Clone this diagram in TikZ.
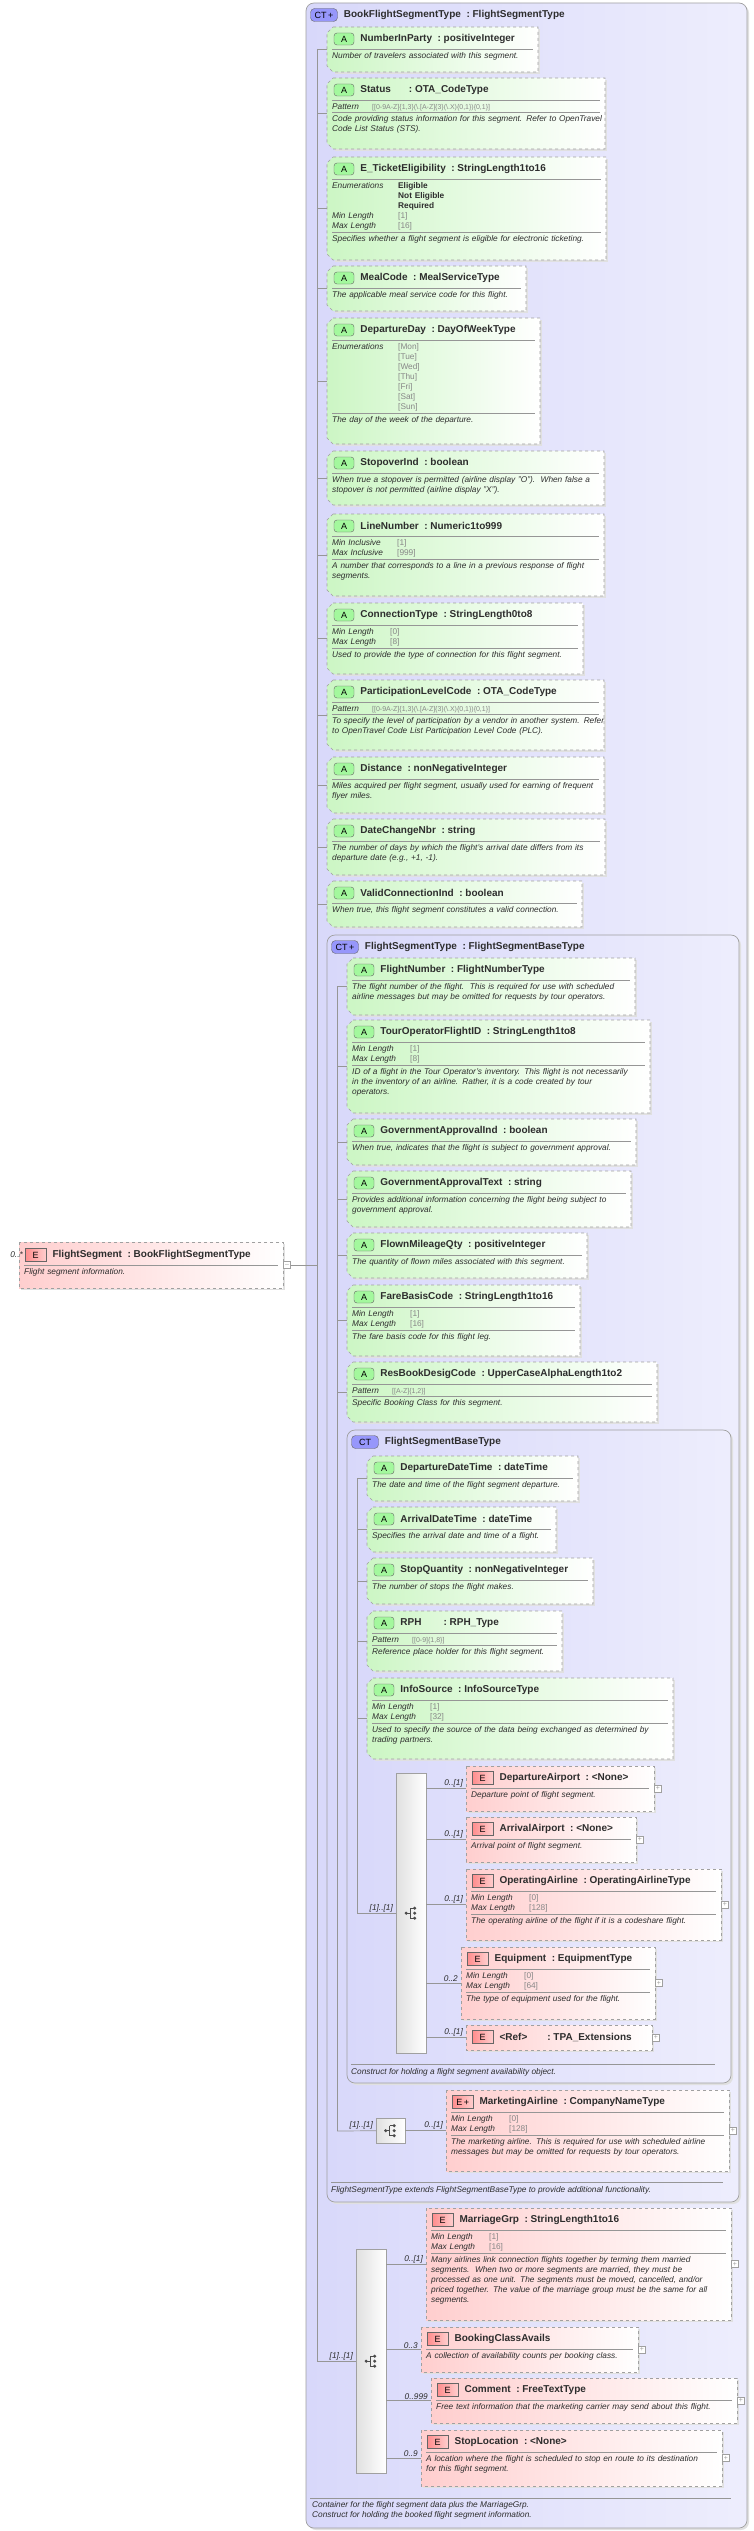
\documentclass[tikz,border=0pt]{standalone}
\usepackage{fontspec}
\setmainfont{Liberation Sans}
\usetikzlibrary{positioning}

\definecolor{attrgreen}{RGB}{204,246,196}
\definecolor{elpink}{RGB}{255,206,206}
\definecolor{ctfill}{RGB}{216,216,250}
\definecolor{bordergray}{RGB}{160,160,160}
\definecolor{rulegray}{RGB}{150,150,150}
\definecolor{facetgray}{RGB}{135,135,135}
\definecolor{txt}{RGB}{45,45,45}

\tikzset{
  conn/.style = {draw=rulegray, line width=.7pt},
  boxshadow/.style = {fill=black!12},
  attrbox/.style = {draw=bordergray, dashed, left color=attrgreen, right color=white, line width=.6pt},
  elbox/.style = {draw=bordergray, dashed, left color=elpink, right color=white, line width=.6pt},
  ctbox/.style = {draw=bordergray, rounded corners=8, left color=ctfill, right color=ctfill!45!white, line width=.7pt},
  abadge/.style = {draw=black!60, rounded corners=3, fill=attrgreen!80!green, minimum width=20, minimum height=12, inner sep=0, font=\fontsize{9}{9}\selectfont},
  ebadge/.style = {draw=black!60, left color=red!45, right color=elpink, minimum width=21, minimum height=13, inner sep=0, font=\fontsize{9}{9}\selectfont},
  ctbadge/.style = {draw=black!60, rounded corners=4, fill=ctfill!70!blue, minimum width=27, minimum height=13, inner sep=0, font=\fontsize{9}{9}\selectfont},
  boxtitle/.style = {inner sep=0, text=txt, font=\fontsize{10}{11}\selectfont\bfseries},
  boxbody/.style = {inner sep=0, anchor=north west, align=left, text=txt, font=\fontsize{8.3}{10}\selectfont\itshape},
  mult/.style = {inner sep=0, text=txt, font=\fontsize{8.3}{9}\selectfont\itshape},
  plusbox/.style = {draw=bordergray, fill=white, minimum size=7, inner sep=0, font=\fontsize{7}{7}\selectfont, text=bordergray},
  seqbar/.style = {draw=bordergray, left color=black!12, right color=white, anchor=north west, inner sep=0},
  sep/.style = {draw=rulegray, line width=.6pt},
}

\newcommand\rw{100pt}
\newcommand\hr{\par\vspace{1pt}{\color{rulegray}\hrule height .6pt width \rw}\vspace{3pt}}
\newcommand\fac[3][58pt]{\makebox[#1][l]{#2}{\upshape\color{facetgray}#3}\par}
\newcommand\pat[1]{\makebox[40pt][l]{Pattern}{\upshape\fontsize{7}{10}\selectfont\color{facetgray}#1}\par}
\newcommand\enu[1]{\makebox[66pt][l]{}{\upshape\bfseries #1}\par}
\newcommand\gen[1]{\makebox[66pt][l]{}{\upshape\color{facetgray}#1}\par}
\newcommand\patOTA{[[0-9A-Z]\{1,3\}(\textbackslash.[A-Z]\{3\}(\textbackslash.X)\{0,1\})\{0,1\}]}

\newcommand\attr[7]{%
  \path[boxshadow] (#2+8,#3+2) rectangle (#4+2,#5+2);
  \path[attrbox] (#2+6,#3) -- (#4,#3) -- (#4,#5) -- (#2+6,#5) -- (#2,#5-6) -- (#2,#3+6) -- cycle;
  \node[abadge] (#1-b) at (#2+17,#3+12) {A};
  \node[boxtitle, right=6pt of #1-b] (#1) {#6};
  \pgfmathsetlengthmacro\rw{#4-#2-10}
  \pgfmathsetlengthmacro\bw{#4-#2+60}
  \node[boxbody, text width=\bw] (#1-d) at (#2+5,#3+21) {#7};
  \coordinate (#1-w) at (#2,{(#3+#5)/2});
}
\newcommand\elem[8][E]{%
  \path[boxshadow] (#3+2,#4+2) rectangle (#5+2,#6+2);
  \path[elbox] (#3,#4) rectangle (#5,#6);
  \node[ebadge, anchor=west] (#2-b) at (#3+6,#4+12) {#1};
  \node[boxtitle, right=6pt of #2-b] (#2) {#7};
  \pgfmathsetlengthmacro\rw{#5-#3-10}
  \pgfmathsetlengthmacro\bw{#5-#3+60}
  \node[boxbody, text width=\bw] (#2-d) at (#3+5,#4+21) {#8};
  \coordinate (#2-w) at (#3,{(#4+#6)/2});
  \node[plusbox] (#2-p) at (#5+4,{(#4+#6)/2}) {+};
}
\newcommand\ctbox[7]{%
  \path[boxshadow, rounded corners=8] (#2+2,#3+2) rectangle (#4+2,#5+2);
  \path[ctbox] (#2,#3) rectangle (#4,#5);
  \node[ctbadge] (#1-b) at (#2+18,#3+12) {#6};
  \node[boxtitle, right=6pt of #1-b] (#1) {#7};
}
\newcommand\branch[3]{%
  \draw[conn] (#2.east |- #1-w) -- (#1-w);
  \node[mult, above left=1pt and 3pt of #1-w] (#1-m) {#3};
}
\newcommand\seqicon[1]{%
  \begin{scope}[shift={(#1.center)}, black!70]
    \fill (-5,0) circle (1.7);
    \draw[line width=.8pt] (-5,0) -- (-1,0) (-1,-5) -- (-1,5) (-1,-5) -- (3,-5) (-1,5) -- (3,5);
    \fill (3.5,-5) circle (1.7) (3.5,0) circle (1.7) (3.5,5) circle (1.7);
  \end{scope}
}

\begin{document}
\begin{tikzpicture}[x=1pt, y=-1pt]
\useasboundingbox (0,0) rectangle (754,2531);

% outer complex type
\ctbox{bfst}{306}{3}{747}{2528}{CT\,+}{BookFlightSegmentType\ \ :\ FlightSegmentType}

% root element
\path[boxshadow] (21,1244) rectangle (285,1290);
\path[elbox] (19,1242) rectangle (283,1288);
\node[ebadge, anchor=west] (seg-b) at (25,1255) {E};
\node[boxtitle, right=6pt of seg-b] (seg) {FlightSegment\ \ :\ BookFlightSegmentType};
\pgfmathsetlengthmacro\rw{254}
\node[boxbody, text width=254pt] (seg-d) at (24,1264) {\hr Flight segment information.};
\node[mult, left=2pt of seg-b.west] (seg-m) {0..*};
\node[plusbox] (seg-p) at (287,1265) {--};
\coordinate (spA-top) at (317,49);
\coordinate (spA-bot) at (317,2361);

\attr{nip}{327}{27}{538}{72}{NumberInParty\ \ :\ positiveInteger}{\hr Number of travelers associated with this segment.}
\attr{status}{327}{78}{605}{149}{Status\hspace{18pt}:\ OTA\_CodeType}{\hr\pat{\patOTA}\hr Code providing status information for this segment. Refer to OpenTravel\\Code List Status (STS).}
\attr{etkt}{327}{157}{606}{260}{E\_TicketEligibility\ \ :\ StringLength1to16}{\hr\fac[66pt]{Enumerations}{\bfseries\color{txt}Eligible}\enu{Not Eligible}\enu{Required}\fac[66pt]{Min Length}{[1]}\fac[66pt]{Max Length}{[16]}\hr Specifies whether a flight segment is eligible for electronic ticketing.}
\attr{meal}{327}{266}{526}{311}{MealCode\ \ :\ MealServiceType}{\hr The applicable meal service code for this flight.}
\attr{depday}{327}{318}{540}{444}{DepartureDay\ \ :\ DayOfWeekType}{\hr\fac[66pt]{Enumerations}{[Mon]}\gen{[Tue]}\gen{[Wed]}\gen{[Thu]}\gen{[Fri]}\gen{[Sat]}\gen{[Sun]}\hr The day of the week of the departure.}
\attr{stopover}{327}{451}{604}{505}{StopoverInd\ \ :\ boolean}{\hr When true a stopover is permitted (airline display "O").\ \ When false a\\stopover is not permitted (airline display "X").}
\attr{linenum}{327}{514}{604}{596}{LineNumber\ \ :\ Numeric1to999}{\hr\fac[65pt]{Min Inclusive}{[1]}\fac[65pt]{Max Inclusive}{[999]}\hr A number that corresponds to a line in a previous response of flight\\segments.}
\attr{conntype}{327}{603}{583}{674}{ConnectionType\ \ :\ StringLength0to8}{\hr\fac{Min Length}{[0]}\fac{Max Length}{[8]}\hr Used to provide the type of connection for this flight segment.}
\attr{plc}{327}{680}{604}{750}{ParticipationLevelCode\ \ :\ OTA\_CodeType}{\hr\pat{\patOTA}\hr To specify the level of participation by a vendor in another system. Refer\\to OpenTravel Code List Participation Level Code (PLC).}
\attr{dist}{327}{757}{604}{813}{Distance\ \ :\ nonNegativeInteger}{\hr Miles acquired per flight segment, usually used for earning of frequent\\flyer miles.}
\attr{datechg}{327}{819}{605}{875}{DateChangeNbr\ \ :\ string}{\hr The number of days by which the flight's arrival date differs from its\\departure date (e.g., +1, -1).}
\attr{validconn}{327}{881}{582}{927}{ValidConnectionInd\ \ :\ boolean}{\hr When true, this flight segment constitutes a valid connection.}

% flight segment type
\ctbox{fst}{327}{935}{739}{2202}{CT\,+}{FlightSegmentType\ \ :\ FlightSegmentBaseType}
\coordinate (spB-top) at (337,986);
\coordinate (spB-bot) at (337,2131);

\attr{fltnum}{347}{958}{635}{1015}{FlightNumber\ \ :\ FlightNumberType}{\hr The flight number of the flight.\ \ This is required for use with scheduled\\airline messages but may be omitted for requests by tour operators.}
\attr{tofid}{347}{1020}{650}{1113}{TourOperatorFlightID\ \ :\ StringLength1to8}{\hr\fac{Min Length}{[1]}\fac{Max Length}{[8]}\hr ID of a flight in the Tour Operator's inventory. This flight is not necessarily\\in the inventory of an airline. Rather, it is a code created by tour\\operators.}
\attr{govind}{347}{1119}{636}{1165}{GovernmentApprovalInd\ \ :\ boolean}{\hr When true, indicates that the flight is subject to government approval.}
\attr{govtxt}{347}{1171}{631}{1227}{GovernmentApprovalText\ \ :\ string}{\hr Provides additional information concerning the flight being subject to\\government approval.}
\attr{flown}{347}{1233}{587}{1278}{FlownMileageQty\ \ :\ positiveInteger}{\hr The quantity of flown miles associated with this segment.}
\attr{fare}{347}{1285}{580}{1356}{FareBasisCode\ \ :\ StringLength1to16}{\hr\fac{Min Length}{[1]}\fac{Max Length}{[16]}\hr The fare basis code for this flight leg.}
\attr{resbook}{347}{1362}{657}{1422}{ResBookDesigCode\ \ :\ UpperCaseAlphaLength1to2}{\hr\pat{[[A-Z]\{1,2\}]}\hr Specific Booking Class for this segment.}

% flight segment base type
\ctbox{fsbt}{347}{1430}{731}{2083}{CT}{FlightSegmentBaseType}
\coordinate (spC-top) at (357,1478);
\coordinate (spC-bot) at (357,1913);

\attr{depdt}{367}{1456}{578}{1501}{DepartureDateTime\ \ :\ dateTime}{\hr The date and time of the flight segment departure.}
\attr{arrdt}{367}{1507}{556}{1552}{ArrivalDateTime\ \ :\ dateTime}{\hr Specifies the arrival date and time of a flight.}
\attr{stopqty}{367}{1558}{593}{1604}{StopQuantity\ \ :\ nonNegativeInteger}{\hr The number of stops the flight makes.}
\attr{rph}{367}{1611}{562}{1671}{RPH\hspace{22pt}:\ RPH\_Type}{\hr\pat{[[0-9]\{1,8\}]}\hr Reference place holder for this flight segment.}
\attr{infosrc}{367}{1678}{673}{1759}{InfoSource\ \ :\ InfoSourceType}{\hr\fac{Min Length}{[1]}\fac{Max Length}{[32]}\hr Used to specify the source of the data being exchanged as determined by\\trading partners.}

\node[seqbar, minimum width=30, minimum height=280] (barC) at (396,1773) {};
\seqicon{barC}
\elem{depap}{466}{1766}{654}{1811}{DepartureAirport\ \ :\ <None>}{\hr Departure point of flight segment.}
\elem{arrap}{466}{1817}{636}{1862}{ArrivalAirport\ \ :\ <None>}{\hr Arrival point of flight segment.}
\elem{opair}{466}{1869}{721}{1940}{OperatingAirline\ \ :\ OperatingAirlineType}{\hr\fac{Min Length}{[0]}\fac{Max Length}{[128]}\hr The operating airline of the flight if it is a codeshare flight.}
\elem{equip}{461}{1947}{655}{2019}{Equipment\ \ :\ EquipmentType}{\hr\fac{Min Length}{[0]}\fac{Max Length}{[64]}\hr The type of equipment used for the flight.}
\elem{tpa}{466}{2025}{652}{2050}{<Ref>\hspace{20pt}:\ TPA\_Extensions}{}
\branch{depap}{barC}{0..[1]}
\branch{arrap}{barC}{0..[1]}
\branch{opair}{barC}{0..[1]}
\branch{equip}{barC}{0..2}
\branch{tpa}{barC}{0..[1]}
\draw[sep] (351,2064) -- (715,2064);
\node[boxbody] (fsbt-d) at (351,2068) {Construct for holding a flight segment availability object.};

\node[seqbar, minimum width=29, minimum height=25] (choiceB) at (376,2118) {};
\seqicon{choiceB}
\elem[E\,+]{mktair}{446}{2090}{729}{2171}{MarketingAirline\ \ :\ CompanyNameType}{\hr\fac{Min Length}{[0]}\fac{Max Length}{[128]}\hr The marketing airline. This is required for use with scheduled airline\\messages but may be omitted for requests by tour operators.}
\branch{mktair}{choiceB}{0..[1]}
\draw[sep] (331,2182) -- (723,2182);
\node[boxbody] (fst-d) at (331,2186) {FlightSegmentType extends FlightSegmentBaseType to provide additional functionality.};

% trailing sequence
\node[seqbar, minimum width=30, minimum height=224] (barA) at (356,2249) {};
\seqicon{barA}
\elem{marriage}{426}{2208}{731}{2320}{MarriageGrp\ \ :\ StringLength1to16}{\hr\fac{Min Length}{[1]}\fac{Max Length}{[16]}\hr Many airlines link connection flights together by terming them married\\segments.\ \ When two or more segments are married, they must be\\processed as one unit. The segments must be moved, cancelled, and/or\\priced together. The value of the marriage group must be the same for all\\segments.}
\elem{bca}{421}{2327}{638}{2372}{BookingClassAvails}{\hr A collection of availability counts per booking class.}
\elem{comment}{431}{2378}{737}{2423}{Comment\ \ :\ FreeTextType}{\hr Free text information that the marketing carrier may send about this flight.}
\elem{stoploc}{421}{2430}{722}{2486}{StopLocation\ \ :\ <None>}{\hr A location where the flight is scheduled to stop en route to its destination\\for this flight segment.}
\coordinate (marriage-w) at (426,2264);
\branch{marriage}{barA}{0..[1]}
\branch{bca}{barA}{0..3}
\branch{comment}{barA}{0..999}
\branch{stoploc}{barA}{0..9}
\draw[sep] (310,2498) -- (731,2498);
\node[boxbody] (bfst-d) at (312,2501) {Container for the flight segment data plus the MarriageGrp.\\Construct for holding the booked flight segment information.};

% spines
\draw[conn] (spA-top) -- (spA-bot);
\foreach \n in {nip,status,etkt,meal,depday,stopover,linenum,conntype,plc,dist,datechg,validconn}
  \draw[conn] (\n-w) -- (\n-w -| spA-top);
\draw[conn] (seg-p.east) -- (seg-p.east -| spA-top);
\draw[conn] (spA-bot) -- (barA.west |- spA-bot);
\node[mult, above left=1pt and 3pt of barA.west |- spA-bot] (barA-m) {[1]..[1]};

\draw[conn] (spB-top) -- (spB-bot);
\foreach \n in {fltnum,tofid,govind,govtxt,flown,fare,resbook}
  \draw[conn] (\n-w) -- (\n-w -| spB-top);
\draw[conn] (spB-bot) -- (choiceB.west);
\node[mult, above left=1pt and 3pt of choiceB.west] (choiceB-m) {[1]..[1]};

\draw[conn] (spC-top) -- (spC-bot);
\foreach \n in {depdt,arrdt,stopqty,rph,infosrc}
  \draw[conn] (\n-w) -- (\n-w -| spC-top);
\draw[conn] (spC-bot) -- (barC.west |- spC-bot);
\node[mult, above left=1pt and 3pt of barC.west |- spC-bot] (barC-m) {[1]..[1]};
\end{tikzpicture}
\end{document}
